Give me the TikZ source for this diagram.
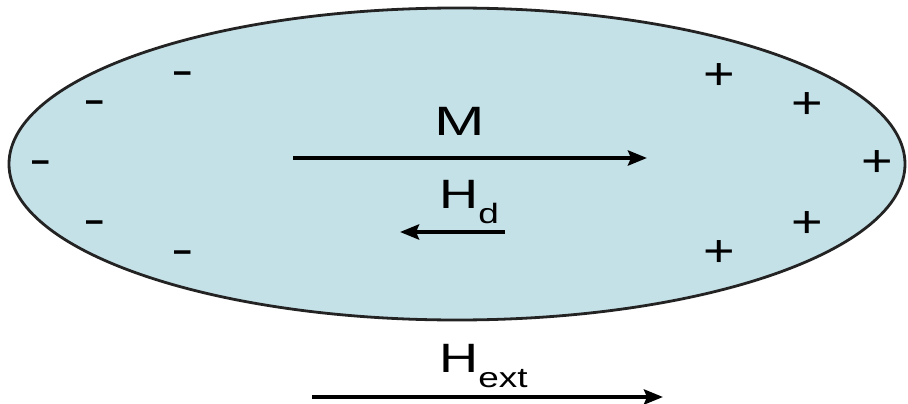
\documentclass[tikz,border=0pt]{standalone}
\usepackage{fontspec}
\setmainfont{Liberation Sans}
\usetikzlibrary{arrows.meta}
\definecolor{bodyfill}{RGB}{197,225,232}
\definecolor{edgecol}{RGB}{35,35,35}
\begin{document}
\begin{tikzpicture}[x=1pt,y=-1pt,
  body/.style={draw=edgecol,line width=2.8pt,fill=bodyfill},
  vec/.style={line width=4pt,-{Stealth[length=19pt,width=15pt,inset=3pt]}},
  lbl/.style={inner sep=0pt,font=\fontsize{41}{45}\selectfont,xscale=1.32},
  pluscharge/.style={inner sep=0pt,font=\fontsize{45}{45}\selectfont,xscale=1.2},
  minuscharge/.style={inner sep=0pt,font=\fontsize{45}{45}\selectfont,xscale=1.5}]
\useasboundingbox (0,0) rectangle (908,404);
\fill[white] (0,0) rectangle (908,404);
% magnetised body
\draw[body] (457,164) ellipse [x radius=448, y radius=156];
% surface charges
\node[minuscharge] (m1) at (41,168) {-};
\node[minuscharge] (m2) at (95,108) {-};
\node[minuscharge] (m3) at (183,79) {-};
\node[minuscharge] (m4) at (95,228) {-};
\node[minuscharge] (m5) at (183,258) {-};
\node[pluscharge] (p1) at (719,77) {+};
\node[pluscharge] (p2) at (807,106) {+};
\node[pluscharge] (p3) at (877,164) {+};
\node[pluscharge] (p4) at (807,225) {+};
\node[pluscharge] (p5) at (719,254) {+};
% magnetisation
\node[lbl,xscale=1.12] (M) at (460,121) {M};
\coordinate (Ms) at (293,158);
\coordinate (Me) at (647,158);
\draw[vec] (Ms) -- (Me);
% demagnetising field
\node[lbl,anchor=base west] (Hd) at (439,208) {H\raisebox{-15pt}{\fontsize{28}{30}\selectfont d}};
\coordinate (Hds) at (505,232);
\coordinate (Hde) at (400,232);
\draw[vec] (Hds) -- (Hde);
% external field
\node[lbl,anchor=base west] (Hext) at (439,372) {H\raisebox{-15pt}{\fontsize{28}{30}\selectfont ext}};
\coordinate (Hes) at (312,397);
\coordinate (Hee) at (663,397);
\draw[vec] (Hes) -- (Hee);
\end{tikzpicture}
\end{document}
